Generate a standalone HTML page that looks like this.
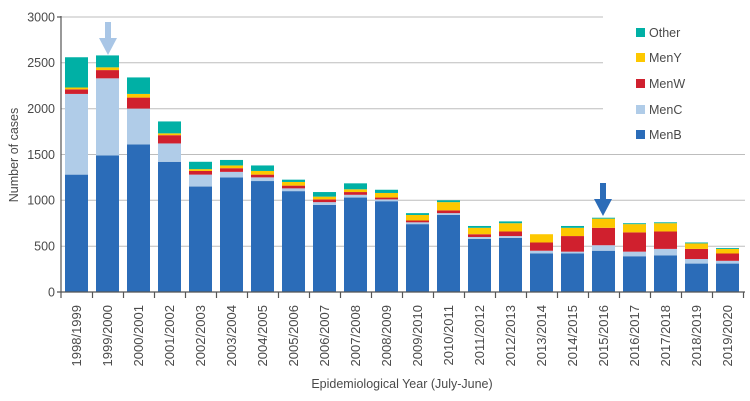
<!DOCTYPE html>
<html><head><meta charset="utf-8"><style>
html,body{margin:0;padding:0;background:#fff;}
svg{display:block;font-family:"Liberation Sans",sans-serif;}
</style></head><body>
<svg width="750" height="401" viewBox="0 0 750 401" xmlns="http://www.w3.org/2000/svg">
<g stroke="#bdbdbd" stroke-width="1">
<line x1="61" y1="246.2" x2="745" y2="246.2"/>
<line x1="61" y1="200.3" x2="745" y2="200.3"/>
<line x1="61" y1="154.5" x2="745" y2="154.5"/>
<line x1="61" y1="108.7" x2="603" y2="108.7"/>
<line x1="61" y1="62.8" x2="603" y2="62.8"/>
<line x1="61" y1="17" x2="603" y2="17"/>
</g>
<g font-size="12.5" fill="#4a4a4a" text-anchor="end">
<text x="55" y="296.5">0</text><text x="55" y="250.5">500</text><text x="55" y="204.5">1000</text>
<text x="55" y="159">1500</text><text x="55" y="113">2000</text><text x="55" y="67">2500</text><text x="55" y="21.5">3000</text>
</g>
<g transform="translate(0,292) scale(1,-0.0917)">
<g fill="#2b6cb8">
<rect x="65" y="0" width="23" height="1280"/><rect x="96" y="0" width="23" height="1490"/><rect x="127" y="0" width="23" height="1610"/><rect x="158" y="0" width="23" height="1420"/><rect x="189" y="0" width="23" height="1150"/><rect x="220" y="0" width="23" height="1250"/><rect x="251" y="0" width="23" height="1210"/><rect x="282" y="0" width="23" height="1100"/><rect x="313" y="0" width="23" height="950"/><rect x="344" y="0" width="23" height="1030"/><rect x="375" y="0" width="23" height="990"/><rect x="406" y="0" width="23" height="740"/><rect x="437" y="0" width="23" height="840"/><rect x="468" y="0" width="23" height="580"/><rect x="499" y="0" width="23" height="590"/><rect x="530" y="0" width="23" height="420"/><rect x="561" y="0" width="23" height="420"/><rect x="592" y="0" width="23" height="450"/><rect x="623" y="0" width="23" height="390"/><rect x="654" y="0" width="23" height="400"/><rect x="685" y="0" width="23" height="310"/><rect x="716" y="0" width="23" height="310"/>
</g>
<g fill="#b0cce8">
<rect x="65" y="1280" width="23" height="880"/><rect x="96" y="1490" width="23" height="840"/><rect x="127" y="1610" width="23" height="390"/><rect x="158" y="1420" width="23" height="200"/><rect x="189" y="1150" width="23" height="130"/><rect x="220" y="1250" width="23" height="60"/><rect x="251" y="1210" width="23" height="40"/><rect x="282" y="1100" width="23" height="30"/><rect x="313" y="950" width="23" height="30"/><rect x="344" y="1030" width="23" height="30"/><rect x="375" y="990" width="23" height="20"/><rect x="406" y="740" width="23" height="20"/><rect x="437" y="840" width="23" height="20"/><rect x="468" y="580" width="23" height="20"/><rect x="499" y="590" width="23" height="20"/><rect x="530" y="420" width="23" height="30"/><rect x="561" y="420" width="23" height="20"/><rect x="592" y="450" width="23" height="60"/><rect x="623" y="390" width="23" height="50"/><rect x="654" y="400" width="23" height="70"/><rect x="685" y="310" width="23" height="50"/><rect x="716" y="310" width="23" height="30"/>
</g>
<g fill="#d0202e">
<rect x="65" y="2160" width="23" height="50"/><rect x="96" y="2330" width="23" height="90"/><rect x="127" y="2000" width="23" height="120"/><rect x="158" y="1620" width="23" height="90"/><rect x="189" y="1280" width="23" height="40"/><rect x="220" y="1310" width="23" height="40"/><rect x="251" y="1250" width="23" height="30"/><rect x="282" y="1130" width="23" height="30"/><rect x="313" y="980" width="23" height="30"/><rect x="344" y="1060" width="23" height="30"/><rect x="375" y="1010" width="23" height="20"/><rect x="406" y="760" width="23" height="20"/><rect x="437" y="860" width="23" height="30"/><rect x="468" y="600" width="23" height="30"/><rect x="499" y="610" width="23" height="50"/><rect x="530" y="450" width="23" height="90"/><rect x="561" y="440" width="23" height="170"/><rect x="592" y="510" width="23" height="190"/><rect x="623" y="440" width="23" height="210"/><rect x="654" y="470" width="23" height="190"/><rect x="685" y="360" width="23" height="110"/><rect x="716" y="340" width="23" height="80"/>
</g>
<g fill="#fdc800">
<rect x="65" y="2210" width="23" height="20"/><rect x="96" y="2420" width="23" height="30"/><rect x="127" y="2120" width="23" height="40"/><rect x="158" y="1710" width="23" height="20"/><rect x="189" y="1320" width="23" height="20"/><rect x="220" y="1350" width="23" height="30"/><rect x="251" y="1280" width="23" height="40"/><rect x="282" y="1160" width="23" height="40"/><rect x="313" y="1010" width="23" height="30"/><rect x="344" y="1090" width="23" height="30"/><rect x="375" y="1030" width="23" height="50"/><rect x="406" y="780" width="23" height="60"/><rect x="437" y="890" width="23" height="90"/><rect x="468" y="630" width="23" height="70"/><rect x="499" y="660" width="23" height="90"/><rect x="530" y="540" width="23" height="90"/><rect x="561" y="610" width="23" height="90"/><rect x="592" y="700" width="23" height="100"/><rect x="623" y="650" width="23" height="90"/><rect x="654" y="660" width="23" height="90"/><rect x="685" y="470" width="23" height="60"/><rect x="716" y="420" width="23" height="50"/>
</g>
<g fill="#00b0a5">
<rect x="65" y="2230" width="23" height="330"/><rect x="96" y="2450" width="23" height="130"/><rect x="127" y="2160" width="23" height="180"/><rect x="158" y="1730" width="23" height="130"/><rect x="189" y="1340" width="23" height="80"/><rect x="220" y="1380" width="23" height="60"/><rect x="251" y="1320" width="23" height="60"/><rect x="282" y="1200" width="23" height="25"/><rect x="313" y="1040" width="23" height="50"/><rect x="344" y="1120" width="23" height="65"/><rect x="375" y="1080" width="23" height="35"/><rect x="406" y="840" width="23" height="20"/><rect x="437" y="980" width="23" height="20"/><rect x="468" y="700" width="23" height="20"/><rect x="499" y="750" width="23" height="20"/><rect x="561" y="700" width="23" height="20"/><rect x="592" y="800" width="23" height="10"/><rect x="623" y="740" width="23" height="10"/><rect x="654" y="750" width="23" height="10"/><rect x="685" y="530" width="23" height="10"/><rect x="716" y="470" width="23" height="10"/>
</g>
</g>
<g stroke="#555" stroke-width="1.2">
<line x1="61" y1="16" x2="61" y2="298"/>
<line x1="57" y1="292" x2="745" y2="292"/>
<line x1="57" y1="17" x2="61" y2="17"/>
<path d="M92.5 292v6M123.5 292v6M154.5 292v6M185.5 292v6M216.5 292v6M247.5 292v6M278.5 292v6M309.5 292v6M340.5 292v6M371.5 292v6M402.5 292v6M433.5 292v6M464.5 292v6M495.5 292v6M526.5 292v6M557.5 292v6M588.5 292v6M619.5 292v6M650.5 292v6M681.5 292v6M712.5 292v6M743.5 292v6"/>
</g>
<path d="M105 22h6v16h6l-9 17l-9-17h6z" fill="#a9c6e6"/>
<path d="M600 183h6v16h6l-9 17l-9-17h6z" fill="#2b6cb8"/>
<g font-size="13" fill="#4a4a4a" text-anchor="end">
<text transform="translate(81,305) rotate(-90)">1998/1999</text>
<text transform="translate(112,305) rotate(-90)">1999/2000</text>
<text transform="translate(143,305) rotate(-90)">2000/2001</text>
<text transform="translate(174,305) rotate(-90)">2001/2002</text>
<text transform="translate(205,305) rotate(-90)">2002/2003</text>
<text transform="translate(236,305) rotate(-90)">2003/2004</text>
<text transform="translate(267,305) rotate(-90)">2004/2005</text>
<text transform="translate(298,305) rotate(-90)">2005/2006</text>
<text transform="translate(329,305) rotate(-90)">2006/2007</text>
<text transform="translate(360,305) rotate(-90)">2007/2008</text>
<text transform="translate(391,305) rotate(-90)">2008/2009</text>
<text transform="translate(422,305) rotate(-90)">2009/2010</text>
<text transform="translate(453,305) rotate(-90)">2010/2011</text>
<text transform="translate(484,305) rotate(-90)">2011/2012</text>
<text transform="translate(515,305) rotate(-90)">2012/2013</text>
<text transform="translate(546,305) rotate(-90)">2013/2014</text>
<text transform="translate(577,305) rotate(-90)">2014/2015</text>
<text transform="translate(608,305) rotate(-90)">2015/2016</text>
<text transform="translate(639,305) rotate(-90)">2016/2017</text>
<text transform="translate(670,305) rotate(-90)">2017/2018</text>
<text transform="translate(701,305) rotate(-90)">2018/2019</text>
<text transform="translate(732,305) rotate(-90)">2019/2020</text>
</g>
<text x="402" y="388" font-size="12.5" fill="#4a4a4a" text-anchor="middle">Epidemiological Year (July-June)</text>
<text transform="translate(18,155) rotate(-90)" font-size="12.5" fill="#4a4a4a" text-anchor="middle">Number of cases</text>
<g font-size="12.5" fill="#4a4a4a">
<rect x="636" y="28" width="9" height="9" fill="#00b0a5"/><text x="649" y="37">Other</text>
<rect x="636" y="53" width="9" height="9" fill="#fdc800"/><text x="649" y="62">MenY</text>
<rect x="636" y="79" width="9" height="9" fill="#d0202e"/><text x="649" y="88">MenW</text>
<rect x="636" y="105" width="9" height="9" fill="#b0cce8"/><text x="649" y="114">MenC</text>
<rect x="636" y="130" width="9" height="9" fill="#2b6cb8"/><text x="649" y="139">MenB</text>
</g>
</svg>
</body></html>
